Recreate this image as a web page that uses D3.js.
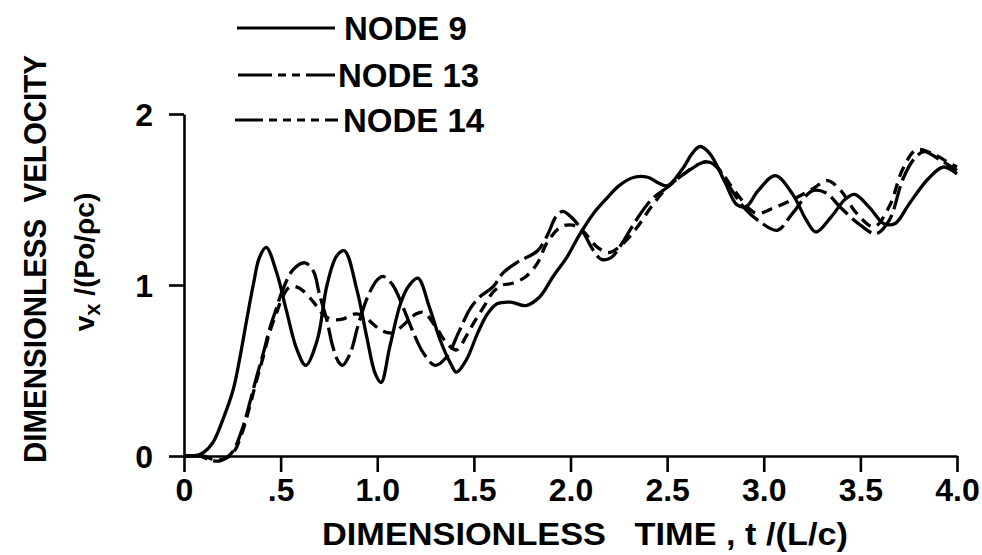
<!DOCTYPE html>
<html><head><meta charset="utf-8">
<script src="https://cdn.jsdelivr.net/npm/d3@7"></script>
<style>body{margin:0;background:#fff} svg{display:block} text{white-space:pre}</style>
</head><body><svg id="c" width="982" height="555"></svg>
<script>
const xTickValues = [0, 0.5, 1, 1.5, 2, 2.5, 3, 3.5, 4];
const xTickLabels = ["0", ".5", "1.0", "1.5", "2.0", "2.5", "3.0", "3.5", "4.0"];
const yTickValues = [0, 1, 2];
const yTickLabels = ["0", "1", "2"];
const seriesNames = ["NODE 9", "NODE 13", "NODE 14"];

const node9 = [[0,0],[0.05,0],[0.1,0.02],[0.15,0.08],[0.2,0.21],[0.255,0.39],[0.29,0.58],[0.325,0.80],[0.36,1.01],[0.39,1.16],[0.425,1.22],[0.48,1.07],[0.53,0.85],[0.585,0.62],[0.63,0.53],[0.69,0.68],[0.74,1.0],[0.79,1.17],[0.83,1.20],[0.895,0.97],[0.945,0.70],[0.99,0.48],[1.02,0.43],[1.065,0.64],[1.12,0.89],[1.16,0.99],[1.21,1.04],[1.27,0.87],[1.325,0.68],[1.38,0.54],[1.41,0.49],[1.46,0.56],[1.52,0.72],[1.57,0.83],[1.62,0.89],[1.69,0.90],[1.77,0.88],[1.84,0.93],[1.91,1.05],[1.98,1.16],[2.05,1.30],[2.12,1.42],[2.19,1.51],[2.25,1.58],[2.33,1.63],[2.4,1.63],[2.45,1.60],[2.5,1.58],[2.58,1.68],[2.63,1.77],[2.67,1.81],[2.72,1.77],[2.8,1.60],[2.86,1.47],[2.91,1.46],[2.97,1.55],[3.06,1.64],[3.15,1.53],[3.22,1.38],[3.27,1.31],[3.35,1.40],[3.42,1.50],[3.47,1.53],[3.55,1.45],[3.62,1.36],[3.68,1.36],[3.75,1.47],[3.85,1.62],[3.93,1.69],[4.0,1.65]];

const node13 = [[0,0],[0.08,0],[0.13,-0.02],[0.18,-0.03],[0.22,-0.01],[0.255,0.03],[0.305,0.17],[0.34,0.31],[0.375,0.46],[0.41,0.60],[0.445,0.75],[0.48,0.87],[0.51,0.97],[0.565,1.09],[0.625,1.13],[0.67,1.08],[0.70,0.95],[0.74,0.79],[0.77,0.64],[0.80,0.55],[0.82,0.53],[0.86,0.60],[0.9,0.76],[0.95,0.93],[1.0,1.03],[1.03,1.05],[1.08,1.0],[1.13,0.88],[1.18,0.74],[1.24,0.60],[1.30,0.53],[1.36,0.58],[1.42,0.72],[1.48,0.86],[1.53,0.93],[1.60,0.99],[1.65,1.07],[1.72,1.13],[1.77,1.16],[1.83,1.20],[1.88,1.29],[1.925,1.40],[1.96,1.43],[2.01,1.39],[2.06,1.32],[2.12,1.20],[2.16,1.15],[2.21,1.16],[2.27,1.25],[2.34,1.38],[2.42,1.50],[2.5,1.57],[2.6,1.66],[2.7,1.72],[2.75,1.70],[2.82,1.58],[2.9,1.45],[2.98,1.37],[3.07,1.32],[3.15,1.42],[3.25,1.55],[3.32,1.54],[3.4,1.45],[3.5,1.35],[3.58,1.30],[3.65,1.38],[3.72,1.62],[3.78,1.74],[3.83,1.78],[3.9,1.74],[4.0,1.67]];

const node14 = [[0,0],[0.1,0],[0.15,-0.02],[0.2,-0.02],[0.255,0.02],[0.305,0.15],[0.34,0.29],[0.375,0.44],[0.41,0.58],[0.445,0.73],[0.48,0.84],[0.51,0.93],[0.55,0.99],[0.6,0.98],[0.67,0.90],[0.71,0.84],[0.76,0.80],[0.82,0.80],[0.88,0.83],[0.93,0.82],[0.98,0.77],[1.03,0.73],[1.08,0.72],[1.13,0.76],[1.2,0.83],[1.24,0.84],[1.3,0.76],[1.36,0.66],[1.41,0.62],[1.46,0.70],[1.50,0.78],[1.55,0.87],[1.60,0.96],[1.65,1.0],[1.70,1.01],[1.77,1.05],[1.83,1.13],[1.88,1.25],[1.95,1.34],[2.01,1.35],[2.06,1.32],[2.14,1.22],[2.2,1.19],[2.27,1.24],[2.34,1.33],[2.42,1.46],[2.5,1.57],[2.6,1.66],[2.65,1.70],[2.72,1.72],[2.78,1.66],[2.85,1.55],[2.96,1.42],[3.05,1.45],[3.15,1.50],[3.25,1.56],[3.33,1.61],[3.4,1.55],[3.48,1.42],[3.57,1.34],[3.65,1.46],[3.72,1.68],[3.79,1.79],[3.87,1.77],[3.95,1.72],[4.0,1.69]];

const seriesData = [node9, node13, node14];
const dashes = [null, "24,6", "11,7"];

const FONT = "'Liberation Sans', Arial, sans-serif";
const svg = d3.select("#c");
const x = d3.scaleLinear().domain([0, 4]).range([184, 957]);
const y = d3.scaleLinear().domain([0, 2]).range([456, 114]);

// axes
const xAxis = d3.axisBottom(x).tickValues(xTickValues)
  .tickFormat((d, i) => xTickLabels[i]).tickSize(16).tickSizeOuter(0).tickPadding(6);
const gx = svg.append("g").attr("transform", `translate(0,${y(0)})`).call(xAxis);
const yAxis = d3.axisLeft(y).tickValues(yTickValues)
  .tickFormat((d, i) => yTickLabels[i]).tickSize(15).tickSizeOuter(0).tickPadding(16);
const gy = svg.append("g").attr("transform", `translate(${x(0)},0)`).call(yAxis);

[gx, gy].forEach(g => {
  g.select(".domain").attr("stroke", "#000").attr("stroke-width", 2.6);
  g.selectAll(".tick line").attr("stroke", "#000").attr("stroke-width", 2.6);
  g.selectAll(".tick text").attr("fill", "#000")
    .style("font-family", FONT).style("font-weight", "bold").style("font-size", "32px");
});
gx.selectAll(".tick text").attr("dy", "0.71em");
gy.selectAll(".tick text").attr("dy", "0.36em");

// curves
const line = d3.line().x(d => x(d[0])).y(d => y(d[1])).curve(d3.curveCatmullRom.alpha(0.5));
seriesData.forEach((data, i) => {
  svg.append("path").datum(data)
    .attr("d", line)
    .attr("fill", "none").attr("stroke", "#000").attr("stroke-width", 3.3)
    .attr("stroke-linejoin", "round")
    .attr("stroke-dasharray", dashes[i]);
});

// legend
const legendRows = [28, 75, 120];
const legendLineX = [[237, 335], [238, 335], [235, 338]];
const legendTextX = [344, 338, 343];
seriesNames.forEach((name, i) => {
  svg.append("line")
    .attr("x1", legendLineX[i][0]).attr("x2", legendLineX[i][1])
    .attr("y1", legendRows[i]).attr("y2", legendRows[i])
    .attr("stroke", "#000").attr("stroke-width", 3)
    .attr("stroke-dasharray", i === 0 ? null : (i === 1 ? "34,6,8,6,8,6,40" : "28,6,8,6,8,6,8,6,8,6,40"));
  svg.append("text").attr("x", legendTextX[i]).attr("y", legendRows[i] + 12)
    .style("font-family", FONT).style("font-weight", "bold").style("font-size", "33px")
    .text(name);
});

// axis titles
svg.append("text")
  .attr("transform", "translate(46,259) rotate(-90)")
  .attr("text-anchor", "middle")
  .attr("textLength", 408).attr("lengthAdjust", "spacingAndGlyphs")
  .style("font-family", FONT).style("font-weight", "bold").style("font-size", "31px")
  .text("DIMENSIONLESS  VELOCITY");

const yt2 = svg.append("text")
  .attr("transform", "translate(94,262) rotate(-90)")
  .attr("text-anchor", "middle")
  .style("font-family", FONT).style("font-weight", "bold").style("font-size", "28px");
yt2.append("tspan").text("v");
yt2.append("tspan").attr("dy", 6).style("font-size", "22px").text("x");
yt2.append("tspan").attr("dy", -6).text(" /(Po/ρc)");

svg.append("text")
  .attr("x", 585).attr("y", 545)
  .attr("text-anchor", "middle")
  .attr("textLength", 526).attr("lengthAdjust", "spacingAndGlyphs")
  .style("font-family", FONT).style("font-weight", "bold").style("font-size", "32px")
  .text("DIMENSIONLESS   TIME , t /(L/c)");
</script></body></html>
